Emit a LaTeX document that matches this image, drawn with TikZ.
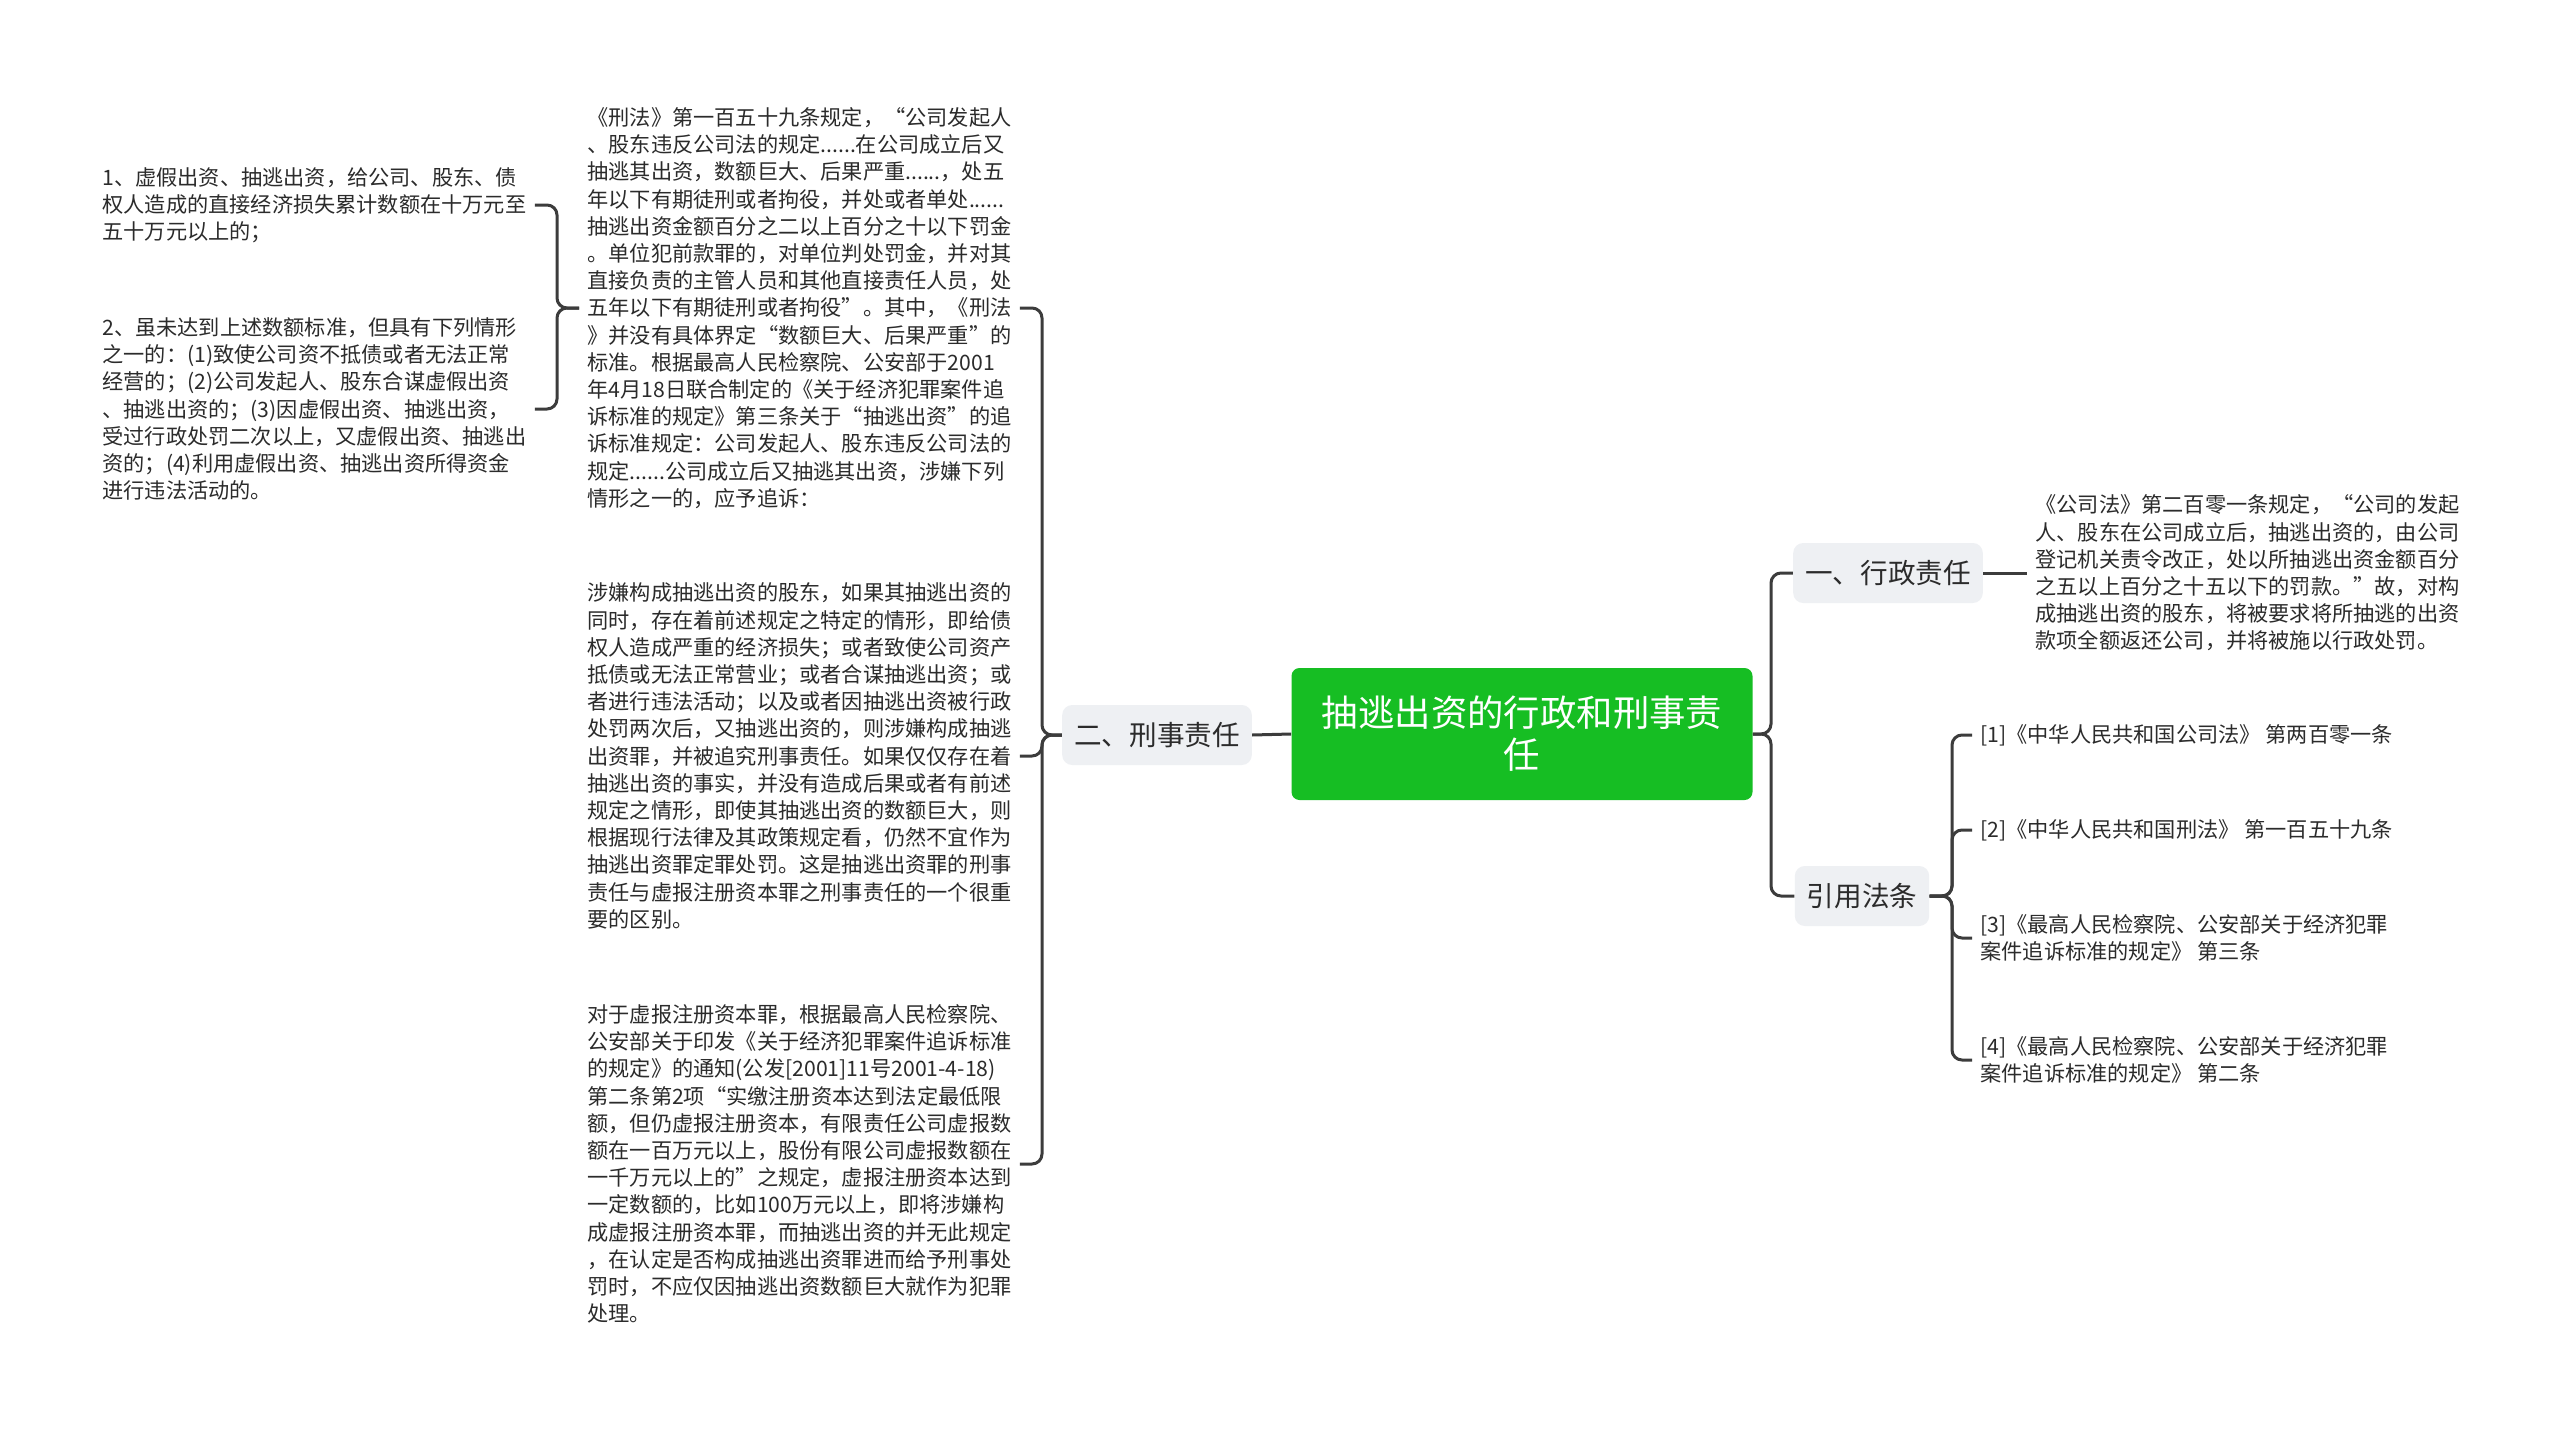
\documentclass[tikz,border=0pt]{standalone}
\usepackage{fontspec}
\setmainfont{Noto Sans CJK SC}
\definecolor{rootgreen}{HTML}{16BE23}
\definecolor{topicgray}{HTML}{EEF0F3}
\definecolor{linec}{HTML}{3C3C3C}
\definecolor{textc}{HTML}{2B2B2B}
\tikzset{
  txt/.style={inner xsep=4pt, inner ysep=0pt, align=left, anchor=west,
    font=\fontsize{10.6}{13.6}\selectfont, text=textc},
  topic/.style={fill=topicgray, rounded corners=5pt, inner xsep=6pt,
    minimum height=30pt, font=\fontsize{13.8}{16}\selectfont, text=textc},
  rootnode/.style={fill=rootgreen, rounded corners=4pt, minimum width=230.5pt,
    minimum height=66pt, align=center, text=white,
    font=\fontsize{18.2}{21}\selectfont},
  link/.style={draw=linec, line width=1.5pt, rounded corners=5pt},
}
\begin{document}
\begin{tikzpicture}[x=0.5pt, y=-0.5pt]
\useasboundingbox (0,0) rectangle (2560,1429);
\fill[white] (0,0) rectangle (2560,1429);

% root and topics
\node[rootnode] (root) at (1522,734) {抽逃出资的行政和刑事责\\任};
\node[topic] (xing) at (1157,735) {二、刑事责任};
\node[topic] (xingzheng) at (1888,573) {一、行政责任};
\node[topic] (yinyong) at (1862,896) {引用法条};

% left texts
\node[txt] (t1) at (579,308) {《刑法》第一百五十九条规定，“公司发起人\\
、股东违反公司法的规定......在公司成立后又\\
抽逃其出资，数额巨大、后果严重......，处五\\
年以下有期徒刑或者拘役，并处或者单处......\\
抽逃出资金额百分之二以上百分之十以下罚金\\
。单位犯前款罪的，对单位判处罚金，并对其\\
直接负责的主管人员和其他直接责任人员，处\\
五年以下有期徒刑或者拘役”。其中，《刑法\\
》并没有具体界定“数额巨大、后果严重”的\\
标准。根据最高人民检察院、公安部于2001\\
年4月18日联合制定的《关于经济犯罪案件追\\
诉标准的规定》第三条关于“抽逃出资”的追\\
诉标准规定：公司发起人、股东违反公司法的\\
规定......公司成立后又抽逃其出资，涉嫌下列\\
情形之一的，应予追诉：};

\node[txt] (t2) at (579,756) {涉嫌构成抽逃出资的股东，如果其抽逃出资的\\
同时，存在着前述规定之特定的情形，即给债\\
权人造成严重的经济损失；或者致使公司资产\\
抵债或无法正常营业；或者合谋抽逃出资；或\\
者进行违法活动；以及或者因抽逃出资被行政\\
处罚两次后，又抽逃出资的，则涉嫌构成抽逃\\
出资罪，并被追究刑事责任。如果仅仅存在着\\
抽逃出资的事实，并没有造成后果或者有前述\\
规定之情形，即使其抽逃出资的数额巨大，则\\
根据现行法律及其政策规定看，仍然不宜作为\\
抽逃出资罪定罪处罚。这是抽逃出资罪的刑事\\
责任与虚报注册资本罪之刑事责任的一个很重\\
要的区别。};

\node[txt] (t3) at (579,1164) {对于虚报注册资本罪，根据最高人民检察院、\\
公安部关于印发《关于经济犯罪案件追诉标准\\
的规定》的通知(公发[2001]11号2001-4-18)\\
第二条第2项“实缴注册资本达到法定最低限\\
额，但仍虚报注册资本，有限责任公司虚报数\\
额在一百万元以上，股份有限公司虚报数额在\\
一千万元以上的”之规定，虚报注册资本达到\\
一定数额的，比如100万元以上，即将涉嫌构\\
成虚报注册资本罪，而抽逃出资的并无此规定\\
，在认定是否构成抽逃出资罪进而给予刑事处\\
罚时，不应仅因抽逃出资数额巨大就作为犯罪\\
处理。};

\node[txt] (i1) at (94,205) {1、虚假出资、抽逃出资，给公司、股东、债\\
权人造成的直接经济损失累计数额在十万元至\\
五十万元以上的；};

\node[txt] (i2) at (94,409) {2、虽未达到上述数额标准，但具有下列情形\\
之一的：(1)致使公司资不抵债或者无法正常\\
经营的；(2)公司发起人、股东合谋虚假出资\\
、抽逃出资的；(3)因虚假出资、抽逃出资，\\
受过行政处罚二次以上，又虚假出资、抽逃出\\
资的；(4)利用虚假出资、抽逃出资所得资金\\
进行违法活动的。};

% right texts
\node[txt] (adm) at (2027,573) {《公司法》第二百零一条规定，“公司的发起\\
人、股东在公司成立后，抽逃出资的，由公司\\
登记机关责令改正，处以所抽逃出资金额百分\\
之五以上百分之十五以下的罚款。”故，对构\\
成抽逃出资的股东，将被要求将所抽逃的出资\\
款项全额返还公司，并将被施以行政处罚。};

\node[txt] (r1) at (1972,735) {[1]《中华人民共和国公司法》 第两百零一条};
\node[txt] (r2) at (1972,830) {[2]《中华人民共和国刑法》 第一百五十九条};
\node[txt] (r3) at (1972,938) {[3]《最高人民检察院、公安部关于经济犯罪\\
案件追诉标准的规定》 第三条};
\node[txt] (r4) at (1972,1060) {[4]《最高人民检察院、公安部关于经济犯罪\\
案件追诉标准的规定》 第二条};

% bracket coordinates
\coordinate (bxing) at (1042,735);
\coordinate (bt1) at (557,308);
\coordinate (broot) at (1771,734);
\coordinate (bref) at (1952,896);

% connectors
\draw[link] (root.west) -- (xing.east);
\draw[link] (xing.west) -- (bxing) |- (t1.east);
\draw[link] (xing.west) -- (bxing) |- (t2.east);
\draw[link] (xing.west) -- (bxing) |- (t3.east);
\draw[link] (t1.west) -- (bt1) |- (i1.east);
\draw[link] (t1.west) -- (bt1) |- (i2.east);
\draw[link] (root.east) -- (broot) |- (xingzheng.west);
\draw[link] (root.east) -- (broot) |- (yinyong.west);
\draw[link] (xingzheng.east) -- (adm.west);
\draw[link] (yinyong.east) -- (bref) |- (r1.west);
\draw[link] (yinyong.east) -- (bref) |- (r2.west);
\draw[link] (yinyong.east) -- (bref) |- (r3.west);
\draw[link] (yinyong.east) -- (bref) |- (r4.west);
\end{tikzpicture}
\end{document}
